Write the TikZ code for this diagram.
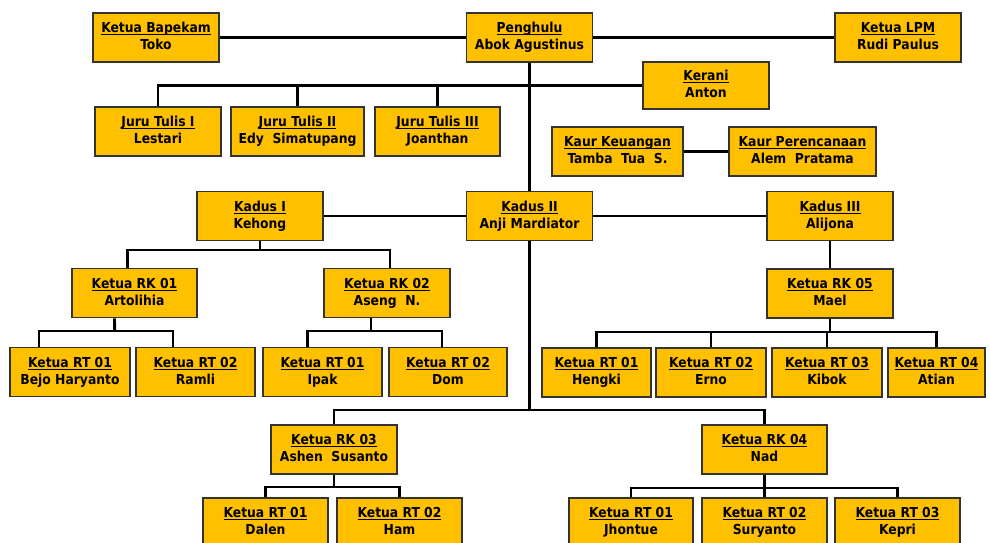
\documentclass[tikz,border=0pt]{standalone}
\usepackage{amsmath}
\usepackage{fontspec}
\setmainfont{DejaVu Sans Condensed}
\definecolor{emas}{HTML}{FFC000}
\tikzset{
  jabatan/.style={draw=black!80, fill=emas, line width=1.2pt,
    minimum width=#1*0.75pt, minimum height=36.75pt, inner sep=0pt,
    align=center, font=\fontsize{10.3}{12.6}\selectfont\bfseries},
  jabatan/.default=126,
  garis/.style={line width=2.2pt}
}
\newcommand{\jab}[2]{\underline{\smash[b]{#1}}\\#2\vphantom{Ag}}

\begin{document}
\begin{tikzpicture}[x=0.75pt,y=-0.75pt]
\useasboundingbox (0,0) rectangle (990,543);
\clip (0,0) rectangle (990,543);

% Pimpinan
\node[jabatan] (bapekam) at (156,37.5) {\jab{Ketua Bapekam}{Toko}};
\node[jabatan] (penghulu) at (529.5,37.5) {\jab{Penghulu}{Abok Agustinus}};
\node[jabatan] (lpm) at (898,37.5) {\jab{Ketua LPM}{Rudi Paulus}};

% Juru tulis, kerani, kaur
\node[jabatan] (jt1) at (158,131.5) {\jab{Juru Tulis I}{Lestari}};
\node[jabatan=133] (jt2) at (297.5,131.5) {\jab{Juru Tulis II}{Edy~ Simatupang}};
\node[jabatan=125] (jt3) at (437.5,131.5) {\jab{Juru Tulis III}{Joanthan}};
\node[jabatan, minimum height=35.25pt] (kerani) at (706,85.5) {\jab{Kerani}{Anton}};
\node[jabatan=131] (kaurkeu) at (617.5,151.5) {\jab{Kaur Keuangan}{Tamba~ Tua~ S.}};
\node[jabatan=147] (kaurren) at (802.5,151.5) {\jab{Kaur Perencanaan}{Alem~ Pratama}};

% Kadus
\node[jabatan] (kadus1) at (260,216) {\jab{Kadus I}{Kehong}};
\node[jabatan] (kadus2) at (529.5,216) {\jab{Kadus II}{Anji Mardiator}};
\node[jabatan] (kadus3) at (830,216) {\jab{Kadus III}{Alijona}};

% RK
\node[jabatan=125] (rk01) at (134.5,293) {\jab{Ketua RK 01}{Artolihia}};
\node[jabatan] (rk02) at (387,293) {\jab{Ketua RK 02}{Aseng~ N.}};
\node[jabatan] (rk05) at (830,293.5) {\jab{Ketua RK 05}{Mael}};
\node[jabatan] (rk03) at (334,449.5) {\jab{Ketua RK 03}{Ashen~ Susanto}};
\node[jabatan=125] (rk04) at (764.5,449.5) {\jab{Ketua RK 04}{Nad}};

% RT
\node[jabatan=120] (rt1a) at (70,372) {\jab{Ketua RT 01}{Bejo Haryanto}};
\node[jabatan=119] (rt1b) at (195.5,372) {\jab{Ketua RT 02}{Ramli}};
\node[jabatan=119] (rt2a) at (322.5,372) {\jab{Ketua RT 01}{Ipak}};
\node[jabatan=118] (rt2b) at (448,372) {\jab{Ketua RT 02}{Dom}};
\node[jabatan=109] (rt5a) at (596.5,372.5) {\jab{Ketua RT 01}{Hengki}};
\node[jabatan=110] (rt5b) at (711,372.5) {\jab{Ketua RT 02}{Erno}};
\node[jabatan=110] (rt5c) at (827,372.5) {\jab{Ketua RT 03}{Kibok}};
\node[jabatan=97] (rt5d) at (936.5,372.5) {\jab{Ketua RT 04}{Atian}};
\node[jabatan=125] (rt3a) at (265.5,522.5) {\jab{Ketua RT 01}{Dalen}};
\node[jabatan=125] (rt3b) at (399.5,522.5) {\jab{Ketua RT 02}{Ham}};
\node[jabatan=124] (rt4a) at (631,522.5) {\jab{Ketua RT 01}{Jhontue}};
\node[jabatan=125] (rt4b) at (764.5,522.5) {\jab{Ketua RT 02}{Suryanto}};
\node[jabatan=125] (rt4c) at (897.5,522.5) {\jab{Ketua RT 03}{Kepri}};

% Garis atas
\draw[garis] (bapekam) -- (penghulu) -- (lpm);
\draw[garis] (penghulu) -- (kadus2);
\draw[garis] (jt1) |- (kerani);
\foreach \n in {jt2,jt3}
    \draw[garis] (\n.north) -- (\n |- kerani);
\draw[garis] (kaurkeu) -- (kaurren);
\draw[garis] (kadus1) -- (kadus2) -- (kadus3);

% Kadus I
\coordinate (k1bus) at (260,250);
\draw[garis] (kadus1.south) -- (k1bus);
\draw[garis] ([xshift=-5.6pt]rk01.north) |- (k1bus) -| ([xshift=2.25pt]rk02.north);
\coordinate (r1bus) at (114.6,331);
\draw[garis] ([xshift=-15pt]rk01.south) -- (r1bus);
\draw[garis] ([xshift=-23.25pt]rt1a.north) |- (r1bus) -| ([xshift=-16.9pt]rt1b.north);
\coordinate (r2bus) at (371,331);
\draw[garis] ([xshift=-12pt]rk02.south) -- (r2bus);
\draw[garis] ([xshift=-11.6pt]rt2a.north) |- (r2bus) -| ([xshift=-4.5pt]rt2b.north);

% Kadus II
\coordinate (k2bus) at (529.5,410);
\draw[garis] (kadus2.south) -- (k2bus);
\draw[garis] (rk03.north) |- (k2bus) -| (rk04.north);
\coordinate (r3bus) at (334,487);
\draw[garis] (rk03.south) -- (r3bus);
\draw[garis] (rt3a.north) |- (r3bus) -| (rt3b.north);
\coordinate (r4bus) at (764.5,488);
\draw[garis] (rk04.south) -- (r4bus);
\foreach \n in {rt4a,rt4b,rt4c}
    \draw[garis] (r4bus) -| (\n.north);

% Kadus III
\draw[garis] (kadus3) -- (rk05);
\coordinate (r5bus) at (830,332);
\draw[garis] (rk05.south) -- (r5bus);
\foreach \n in {rt5a,rt5b,rt5c,rt5d}
    \draw[garis] (r5bus) -| (\n.north);
\end{tikzpicture}
\end{document}
